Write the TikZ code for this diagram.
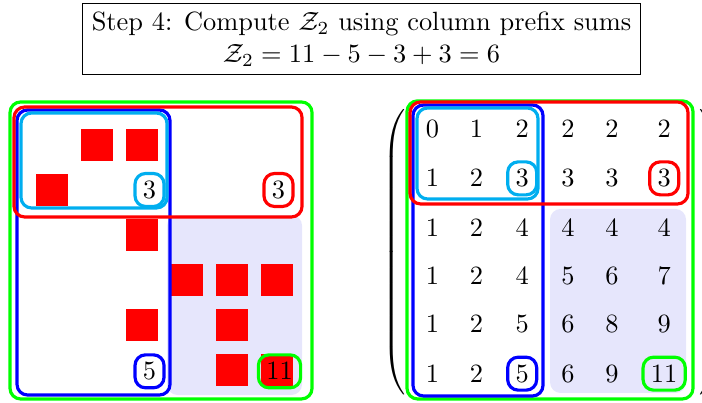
\documentclass[tikz,border=0pt]{standalone}
\usepackage{amsmath}
\usetikzlibrary{matrix}
\definecolor{skyc}{RGB}{0,174,239}
\definecolor{lgreen}{RGB}{0,255,0}
\definecolor{lav}{RGB}{230,230,252}

\begin{document}
\begin{tikzpicture}[x=17.05pt, y=17.05pt,
  frame/.style={rounded corners, very thick},
  lbl/.style={draw, very thick, rounded corners, inner sep=3pt, text height=6.5pt, text depth=0pt}]

  % 参数
  \def\sq{0.35}    % 红色方块半边长
  \useasboundingbox (-0.156,2.222) rectangle (15.444,-6.733);

  % ---- 标题 ----
  \node[draw, align=center] (title) at (7.878,1.356)
    {Step 4: Compute $\mathcal{Z}_2$ using column prefix sums\\ $\mathcal{Z}_2 = 11 - 5 - 3 + 3 = 6$};

  % ---- 左侧: 点集网格 ----
  \fill[lav, rounded corners] (3.556,-2.556) rectangle (6.556,-6.556);
  \foreach \x/\y in {2/1,3/1,1/2,3/3,4/4,5/4,6/4,3/5,5/5,5/6,6/6}
    \fill[red] (\x-\sq,-\y-\sq) rectangle (\x+\sq,-\y+\sq);

  \draw[frame, lgreen] (0.067,-0.044) rectangle (6.778,-6.644);
  \draw[frame, blue] (0.222,-0.222) rectangle (3.622,-6.556);
  \draw[frame, skyc] (0.311,-0.289) rectangle (3.556,-2.4);
  \draw[frame, red] (0.156,-0.156) rectangle (6.556,-2.6);

  \node[lbl, draw=skyc] (s23) at (3.167,-2) {$3$};
  \node[lbl, draw=red] (s26) at (6.033,-2) {$3$};
  \node[lbl, draw=blue] (s63) at (3.167,-6.03) {$5$};
  \node[lbl, draw=lgreen] (s66) at (6.056,-6.03) {$11$};

  % ---- 右侧: 前缀和矩阵 ----
  \fill[lav, rounded corners] (12.067,-2.422) rectangle (15.089,-6.511);
  \matrix (m) [matrix of math nodes, left delimiter=(, right delimiter=),
    row sep=5.7pt, column sep=5.7pt,
    nodes={text height=6.5pt, text depth=0pt, inner sep=3pt}] at (12.12,-3.378) {
    0 & 1 & 2 & 2 & 2 & 2 \\
    1 & 2 & |[lbl, draw=skyc]| 3 & 3 & 3 & |[lbl, draw=red]| 3 \\
    1 & 2 & 4 & 4 & 4 & 4 \\
    1 & 2 & 4 & 5 & 6 & 7 \\
    1 & 2 & 5 & 6 & 8 & 9 \\
    1 & 2 & |[lbl, draw=blue]| 5 & 6 & 9 & |[lbl, draw=lgreen]| 11 \\
  };

  \draw[frame, lgreen] (8.889,-0.02) rectangle (15.244,-6.644);
  \draw[frame, blue] (9.022,-0.111) rectangle (11.911,-6.578);
  \draw[frame, skyc] (9.111,-0.178) rectangle (11.8,-2.2);
  \draw[frame, red] (8.956,-0.044) rectangle (15.133,-2.311);

\end{tikzpicture}
\end{document}
